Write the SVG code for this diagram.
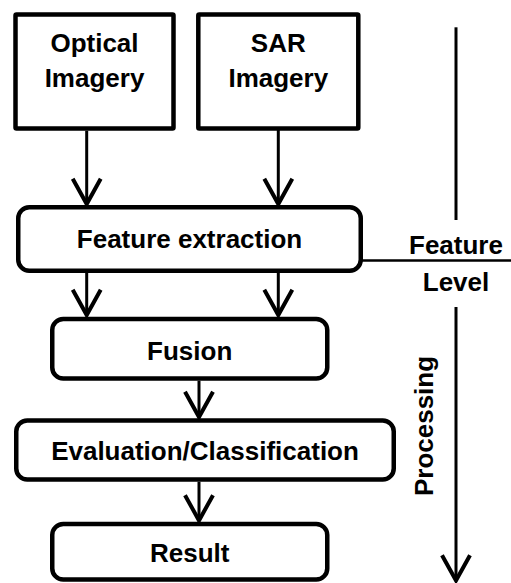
<svg xmlns="http://www.w3.org/2000/svg" width="511" height="583" viewBox="0 0 511 583">
  <defs>
    <style>
      .box { fill: #ffffff; stroke: #000000; stroke-width: 4.5; }
      .lbl { font-family: "Liberation Sans", Arial, sans-serif; font-weight: bold; font-size: 26px; fill: #000000; text-anchor: middle; }
      .con { fill: none; stroke: #000000; stroke-width: 3; }
      .head { fill: none; stroke: #000000; stroke-width: 3; stroke-linejoin: miter; }
    </style>
    <marker id="arrow" markerUnits="userSpaceOnUse" markerWidth="40" markerHeight="40" viewBox="-25 -15 30 30" refX="0" refY="0" orient="auto" overflow="visible">
      <path class="head" d="M-19,-10.5 L0,0 L-19,10.5"/>
    </marker>
  </defs>
  <rect width="511" height="583" fill="#ffffff"/>

  <g id="connectors">
    <line class="con" x1="86.7" y1="130.7" x2="86.7" y2="204" marker-end="url(#arrow)"/>
    <line class="con" x1="278.3" y1="129.5" x2="278.3" y2="204" marker-end="url(#arrow)"/>
    <line class="con" x1="86.7" y1="273" x2="86.7" y2="315" marker-end="url(#arrow)"/>
    <line class="con" x1="278.3" y1="273" x2="278.3" y2="315" marker-end="url(#arrow)"/>
    <line class="con" x1="199" y1="380.7" x2="199" y2="417" marker-end="url(#arrow)"/>
    <line class="con" x1="199" y1="481.7" x2="199" y2="520.5" marker-end="url(#arrow)"/>
    <line class="con" x1="456" y1="27.3" x2="456" y2="220"/>
    <line class="con" x1="456" y1="307" x2="456" y2="580.5" marker-end="url(#arrow)"/>
    <line x1="362" y1="260.5" x2="511" y2="260.5" stroke="#000000" stroke-width="2.5"/>
  </g>

  <g id="optical">
    <rect class="box" x="15.5" y="14.5" width="158" height="114" rx="1"/>
    <text class="lbl" x="94.5" y="52.3">Optical</text>
    <text class="lbl" x="94.5" y="87.3">Imagery</text>
  </g>
  <g id="sar">
    <rect class="box" x="198.3" y="14.5" width="160" height="114" rx="1"/>
    <text class="lbl" x="278.3" y="52.3">SAR</text>
    <text class="lbl" x="278.3" y="87.3">Imagery</text>
  </g>
  <g id="feature-extraction">
    <rect class="box" x="18.25" y="207.25" width="342.5" height="63.5" rx="11"/>
    <text class="lbl" x="189.5" y="248">Feature extraction</text>
  </g>
  <g id="fusion">
    <rect class="box" x="52.25" y="319" width="275" height="59.5" rx="11"/>
    <text class="lbl" x="189.7" y="359.5">Fusion</text>
  </g>
  <g id="evaluation">
    <rect class="box" x="16.25" y="420.5" width="377.5" height="59" rx="11"/>
    <text class="lbl" x="205" y="459.5">Evaluation/Classification</text>
  </g>
  <g id="result">
    <rect class="box" x="52.25" y="524" width="275" height="55.5" rx="11"/>
    <text class="lbl" x="189.7" y="562.3">Result</text>
  </g>
  <g id="feature-level">
    <text class="lbl" x="456" y="254">Feature</text>
    <text class="lbl" x="456" y="291">Level</text>
  </g>
  <g id="processing">
    <text class="lbl" transform="translate(433,426) rotate(-90)">Processing</text>
  </g>
</svg>
